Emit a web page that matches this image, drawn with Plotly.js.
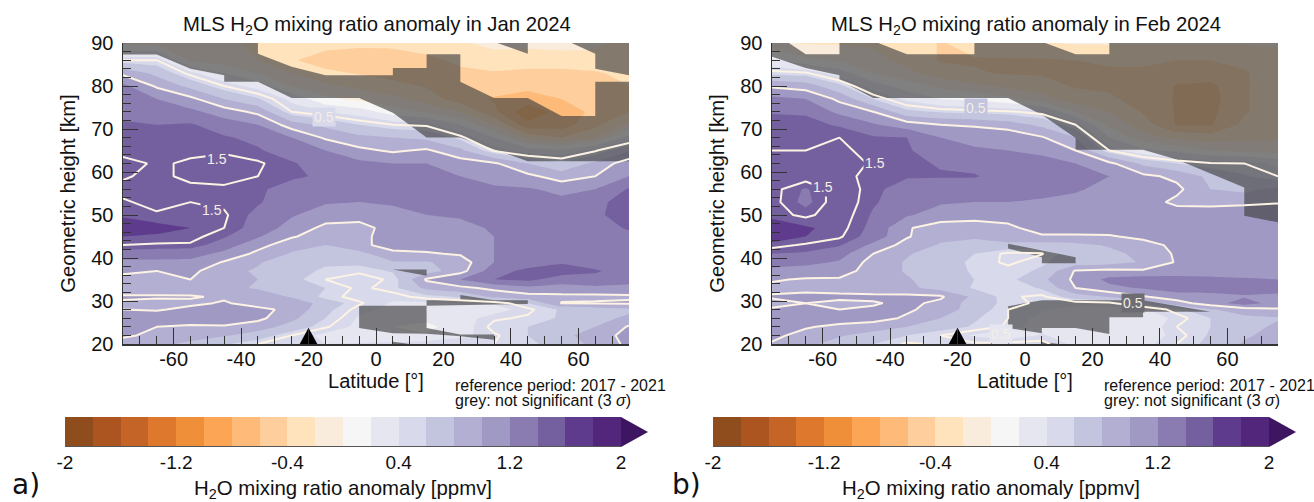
<!DOCTYPE html>
<html><head><meta charset="utf-8">
<script src="https://cdn.plot.ly/plotly-3.0.1.min.js"></script>
<style>html,body{margin:0;padding:0;background:#fff}#c{width:1314px;height:502px}</style>
</head><body><div id="c"></div>
<script>
const latitudes=[-75,-65,-55,-45,-35,-25,-15,-5,5,15,25,35,45,55,65,75];
const heights=[20,22,24,26,28,29.5,31,33,35,37,39,41,43,45,47,50,53,56,59,62,65,68,71,74,77,80,83,86,90];
const janAnomaly=[
[.95,.85,.75,.62,.5,.42,.4,.42,.45,.5,.5,.5,.55,.7,.85,1.05],
[1.02,.97,.9,.82,.7,.5,.35,.25,.2,.22,.35,.48,.6,.75,.88,1.08],
[1.08,1.0,.97,.98,.9,.72,.52,.35,.2,.15,.3,.55,.6,.7,.8,1.02],
[1.1,1.12,1.12,1.12,1.05,.85,.6,.38,.28,.25,.32,.48,.52,.62,.72,.85],
[1.0,.98,1.05,1.05,1.05,.95,.65,.45,.35,.32,.3,.32,.47,.62,.7,.75],
[.98,.95,.96,1.02,.92,.97,.7,.52,.38,.38,.4,.42,.6,1.01,1.02,1.03],
[1.02,1.02,1.02,.97,.92,.78,.55,.45,.45,.55,.62,.85,.92,.95,.95,.97],
[.9,.9,.88,.85,.78,.72,.6,.47,.55,.85,.95,1.05,1.15,1.12,1.15,1.12],
[.92,.95,1.0,.8,.8,.65,.5,.45,.52,1.03,1.2,1.4,1.45,1.3,1.35,1.3],
[1.05,1.0,1.06,.85,.78,.65,.58,.52,.62,.7,.92,1.32,1.45,1.5,1.42,1.32],
[1.15,1.15,1.15,.98,.82,.68,.62,.65,.78,.78,.9,1.2,1.3,1.38,1.32,1.28],
[1.3,1.3,1.28,1.15,.95,.78,.68,.72,.97,.98,1.02,1.2,1.25,1.3,1.3,1.3],
[1.5,1.48,1.48,1.3,1.07,.88,.8,.97,1.05,1.08,1.15,1.2,1.25,1.28,1.3,1.3],
[1.6,1.58,1.55,1.42,1.22,1.02,.9,.97,1.05,1.12,1.15,1.2,1.22,1.28,1.3,1.35],
[1.8,1.65,1.6,1.5,1.32,1.12,.95,.93,1.08,1.12,1.15,1.22,1.28,1.3,1.32,1.42],
[1.55,1.52,1.55,1.52,1.35,1.22,1.1,1.08,1.15,1.2,1.22,1.28,1.3,1.3,1.36,1.5],
[1.52,1.45,1.5,1.47,1.42,1.28,1.22,1.2,1.22,1.25,1.25,1.25,1.25,1.25,1.34,1.5],
[1.45,1.42,1.45,1.45,1.42,1.35,1.3,1.3,1.3,1.28,1.25,1.22,1.22,1.15,1.2,1.42],
[1.52,1.45,1.55,1.6,1.5,1.42,1.38,1.39,1.4,1.3,1.2,1.15,1.05,.9,1.0,1.2],
[1.55,1.48,1.52,1.58,1.52,1.42,1.3,1.25,1.2,1.2,1.1,1.03,.8,.65,.85,1.12],
[1.45,1.45,1.47,1.47,1.42,1.3,1.2,1.05,.97,1.03,.85,.48,.3,.25,.48,.78],
[1.45,1.42,1.47,1.42,1.35,1.2,.97,.85,.8,.75,.55,.2,-.25,-.4,-.25,.3],
[1.42,1.4,1.42,1.3,1.2,.9,.75,.6,.5,.47,.2,-.2,-.75,-.7,-.45,-.15],
[1.35,1.3,1.25,1.1,.95,.5,.4,.3,.1,-.03,-.2,-.55,-.95,-.72,-.55,-.4],
[1.35,1.2,1.05,.8,.62,.35,.05,-.05,-.15,-.3,-.5,-.62,-.68,-.6,-.55,-.5],
[1.25,.97,.74,.5,.32,0,-.15,-.25,-.32,-.42,-.45,-.5,-.55,-.5,-.5,-.4],
[.95,.74,.45,.2,0,-.2,-.35,-.42,-.5,-.5,-.45,-.42,-.45,-.45,-.42,-.35],
[.5,.5,-.03,-.12,-.2,-.38,-.5,-.52,-.5,-.45,-.35,-.28,-.3,-.3,-.28,-.3],
[-.05,-.05,-.1,-.15,-.25,-.28,-.32,-.35,-.35,-.3,-.22,-.15,-.15,-.12,-.15,-.3]];
const febAnomaly=[
[.98,.85,.72,.6,.48,.52,.52,.55,.55,.35,.3,.35,.5,.65,.82,.98],
[1.05,.93,.82,.72,.6,.5,.38,.3,.42,.3,.25,.3,.45,.62,.78,.85],
[1.12,1.02,.95,.9,.8,.68,.58,.48,.32,.25,.25,.28,.5,.6,.7,.85],
[1.15,1.12,1.1,1.08,.97,.8,.62,.5,.35,.28,.28,.25,.45,.6,.75,.78],
[1.02,1.05,1.0,1.03,1.03,.92,.7,.5,.42,.35,.35,.38,.55,.78,.9,.98],
[.95,1.0,.95,.98,1.05,.95,.7,.55,.47,.45,.47,.65,.92,1.1,1.3,1.1],
[1.02,1.05,1.05,1.05,1.05,1.03,.75,.52,.47,.7,.82,.98,1.1,1.12,1.18,1.15],
[.95,.95,.92,.88,.85,.72,.58,.5,.62,1.0,1.15,1.22,1.3,1.3,1.28,1.28],
[1.02,.98,.98,.9,.82,.7,.6,.55,.75,1.05,1.25,1.3,1.28,1.25,1.22,1.2],
[1.15,1.12,1.08,.92,.78,.68,.58,.55,.62,1.02,1.05,1.03,1.08,1.1,1.12,1.12],
[1.28,1.25,1.18,.92,.78,.65,.58,.47,.58,.68,.72,.82,1.02,1.12,1.12,1.12],
[1.4,1.38,1.28,1.0,.82,.7,.6,.47,.49,.72,.75,.85,1.03,1.1,1.1,1.1],
[1.55,1.48,1.42,1.15,.92,.78,.75,.72,.72,.75,.82,.92,1.05,1.1,1.1,1.1],
[1.7,1.6,1.52,1.32,1.02,.85,.82,.97,.97,.97,.98,1.05,1.1,1.12,1.12,1.15],
[1.72,1.62,1.55,1.35,1.02,.9,.88,.95,1.1,1.1,1.1,1.1,1.15,1.15,1.15,1.2],
[1.55,1.47,1.58,1.38,1.22,1.12,1.1,1.1,1.12,1.1,1.1,1.1,1.12,1.1,1.15,1.18],
[1.55,1.35,1.6,1.42,1.3,1.22,1.2,1.2,1.18,1.15,1.1,1.1,.95,.95,.95,.98],
[1.55,1.38,1.58,1.45,1.3,1.25,1.25,1.25,1.25,1.22,1.15,1.1,1.05,.8,.75,.85],
[1.55,1.58,1.55,1.45,1.42,1.42,1.42,1.3,1.28,1.25,1.2,1.05,.95,.75,.62,.5],
[1.55,1.55,1.58,1.48,1.45,1.38,1.32,1.35,1.28,1.2,1.05,.75,.6,.52,.5,.35],
[1.5,1.5,1.52,1.47,1.42,1.3,1.22,1.2,1.15,1.0,.5,.25,.15,0,-.05,-.1],
[1.45,1.45,1.5,1.42,1.4,1.2,1.15,1.15,1.02,.8,.2,-.12,-.25,-.3,-.25,-.22],
[1.5,1.45,1.38,1.22,1.1,1.0,.97,.9,.75,.5,-.05,-.3,-.62,-.62,-.35,-.28],
[1.38,1.38,1.15,1.0,.65,.58,.55,.52,.45,0,-.2,-.42,-.62,-.65,-.42,-.28],
[1.25,1.2,.95,.6,.35,.2,.15,.05,-.12,-.3,-.38,-.45,-.62,-.68,-.42,-.28],
[.97,.9,.65,.3,.1,-.05,-.15,-.25,-.32,-.42,-.42,-.42,-.62,-.65,-.42,-.3],
[.55,.52,.3,0,-.15,-.3,-.38,-.42,-.42,-.42,-.42,-.42,-.45,-.5,-.42,-.28],
[.25,.05,-.03,-.15,-.25,-.42,-.42,-.42,-.42,-.4,-.38,-.38,-.4,-.4,-.35,-.25],
[-.15,-.22,-.22,-.22,-.25,-.42,-.3,-.25,-.22,-.18,-.18,-.18,-.18,-.18,-.18,-.18]];
// Not-significant regions, [latitude, km], polygons split by null
const janMaskLat=[-75,-35,-35,-25,-15,5,5,15,15,25,25,35,45,55,65,65,75,75,45,35,25,15,5,-5,-25,-35,-45,-45,-55,-65,-75,-75,null,36,45,45,null,58,65,65,75,75,null,5,15,15,null,-5,15,15,25,25,35,45,45,15,15,25,35,35,25,15,5,-5,null,5,10,5];
const janMaskKm=[90,90,87.5,84.5,82.5,82.5,84.2,84.2,87.4,87.4,81,77.2,77.2,73,73,81,81,62.5,62.5,65.2,68,68,73.8,77.2,77.2,81,81,82.5,84,87.3,87.3,90,null,90,87.5,90,null,90,87.5,84,82.5,90,null,37.3,37.3,35.9,null,28.9,28.9,30.2,30.2,31.4,30.2,30.2,29.3,28.9,23.7,22.2,22.2,21,21.8,22.4,22.5,23.7,null,20.5,20,20];
const febMaskLat=[-75,-70,-65,-55,-55,-43.5,-35,-15,-15,6,15,25,25,75,75,65,65,45,35,15,15,5,-5,-45,-55,-55,-65,-75,-75,null,-5,15,15,5,5,-5,null,-5,5,35,55,35,35,25,25,15,5,5,-5,null,5,10,5];
const febMaskKm=[90,90,87.4,87.4,90,90,87.4,87.4,90,90,87.4,87.4,90,90,48.3,49.8,56.4,62.9,65.2,65.2,67.9,73.3,77.2,77.2,81.4,82.5,84.2,86.8,90,null,43.3,40.2,38.8,38.8,40.2,42.2,null,28.8,30.2,30.2,27.5,27.5,26.2,26.2,22.3,23.7,23.7,22.5,23.7,null,20.5,20,20];
const bandColors=['#8f4d1e','#ac5520','#c46427','#dd782c','#ef8f3a','#fca555','#fdba78','#fecf9c','#fee3bd','#f9ecdc','#f6f6f6','#e6e6f0','#d8d9ea','#c3c4de','#b3afd2','#9f99c3','#8a7cb1','#74609e','#5e3b8d','#52267a'];
const overColor='#3d1560';
const barMid=[-1.9,-1.7,-1.5,-1.3,-1.1,-.9,-.7,-.5,-.3,-.1,.1,.3,.5,.7,.9,1.1,1.3,1.5,1.7,1.9];
const barTicks=[-2,-1.2,-.4,.4,1.2,2];
const latTicks=[-60,-40,-20,0,20,40,60];
const stationLat=[-22.6,-20,-17.4], stationKm=[20,23.8,20];
const lineLevels={start:.5,end:1.5,size:.5};
const lineColor='#fdf3e4';

const cs=[];bandColors.forEach((c,i)=>{cs.push([i/20,c]);cs.push([(i+1)/20,c]);});
const W=1314,H=502;
const dx=(a,b)=>[a/W,b/W], dy=(t,b)=>[(H-b)/H,(H-t)/H];
const font='"Liberation Sans",Arial,sans-serif', ink='#111';
const panels=[
 {L:123,R:629,z:janAnomaly,mx:janMaskLat,my:janMaskKm,ax:'',ov:'3',cb:'5',ar:'7',cL:65,cR:621},
 {L:772,R:1278,z:febAnomaly,mx:febMaskLat,my:febMaskKm,ax:'2',ov:'4',cb:'6',ar:'8',cL:713,cR:1269}];
const data=[],layout={width:W,height:H,margin:{l:0,r:0,t:0,b:0},paper_bgcolor:'#fff',plot_bgcolor:'rgba(0,0,0,0)',showlegend:false,font:{family:font,color:ink},annotations:[]};
panels.forEach(p=>{
 const xa='x'+p.ax,ya='y'+p.ax,xo='x'+p.ov,yo='y'+p.ov,xc='x'+p.cb,yc='y'+p.cb,xr='x'+p.ar,yr='y'+p.ar;
 data.push({type:'contour',x:latitudes,y:heights,z:p.z,xaxis:xa,yaxis:ya,zmin:-2,zmax:2,zauto:false,autocontour:false,colorscale:cs,showscale:false,
   contours:{start:-2,end:2,size:.2,coloring:'fill',showlines:false},line:{width:0,smoothing:0},hoverinfo:'skip'});
 data.push({type:'scatter',mode:'lines',x:p.mx,y:p.my,xaxis:xa,yaxis:ya,fill:'toself',fillcolor:'rgba(65,65,65,0.65)',line:{width:0},hoverinfo:'skip'});
 data.push({type:'contour',x:latitudes,y:heights,z:p.z,xaxis:xo,yaxis:yo,autocontour:false,showscale:false,
   contours:Object.assign({coloring:'none'},lineLevels),line:{color:lineColor,width:2,smoothing:0},hoverinfo:'skip'});
 data.push({type:'scatter',mode:'lines',x:stationLat,y:stationKm,xaxis:xo,yaxis:yo,fill:'toself',fillcolor:'#000',line:{width:0,color:'#000'},hoverinfo:'skip'});
 data.push({type:'heatmap',x:barMid,y:[.5],z:[barMid],xaxis:xc,yaxis:yc,zmin:-2,zmax:2,colorscale:cs,showscale:false,hoverinfo:'skip'});
 data.push({type:'scatter',mode:'lines',x:[2,2.194,2],y:[0,.5,1],xaxis:xr,yaxis:yr,fill:'toself',fillcolor:overColor,line:{width:0,color:overColor},hoverinfo:'skip'});
 data.push({type:'scatter',mode:'lines',x:[-2,2],y:[0,0],xaxis:xc,yaxis:yc,line:{width:2,color:'#555'},cliponaxis:false,hoverinfo:'skip'});
 const xk=k=>'xaxis'+k,yk=k=>'yaxis'+k;
 const dom=dy(43,344),xd=dx(p.L,p.R);
 layout[xk(p.ax)]={domain:xd,range:[-75,75],anchor:ya,tickmode:'array',tickvals:latTicks,ticktext:latTicks.map(String),ticks:'inside',ticklen:16,tickwidth:1,tickcolor:'#333',
   minor:{dtick:5,tick0:0,ticks:'inside',ticklen:8,tickwidth:1,tickcolor:'#333',showgrid:false},showline:true,linecolor:'#333',linewidth:1.5,showgrid:false,zeroline:false,
   tickfont:{size:20,family:font,color:ink},ticklabelstandoff:-4,title:{text:'Latitude [°]',font:{size:20,family:font,color:ink},standoff:1}};
 layout[yk(p.ax)]={domain:dom,range:[20,90],anchor:xa,tickmode:'linear',dtick:10,tick0:0,ticks:'inside',ticklen:15,tickwidth:1,tickcolor:'#333',
   minor:{dtick:2,ticks:'inside',ticklen:8,tickwidth:1,tickcolor:'#333',showgrid:false},showline:true,linecolor:'#333',linewidth:1.5,showgrid:false,zeroline:false,
   tickfont:{size:20,family:font,color:ink},ticklabelstandoff:4,title:{text:'Geometric height [km]',font:{size:20.3,family:font,color:ink},standoff:10}};
 layout[xk(p.ov)]={domain:xd,range:[-75,75],overlaying:xa,anchor:yo,visible:false};
 layout[yk(p.ov)]={domain:dom,range:[20,90],overlaying:ya,anchor:xo,visible:false};
 layout[xk(p.cb)]={domain:dx(p.cL,p.cR),range:[-2,2],anchor:yc,tickmode:'array',tickvals:barTicks,ticktext:barTicks.map(String),ticks:'',showgrid:false,zeroline:false,showline:false,
   tickfont:{size:19,family:font,color:ink},ticklabelstandoff:2,title:{text:'H<sub>2</sub>O mixing ratio anomaly [ppmv]',font:{size:20.4,family:font,color:ink},standoff:10}};
 layout[yk(p.cb)]={domain:dy(417,447),range:[0,1],anchor:xc,visible:false};
 layout[xk(p.ar)]={domain:dx(p.cR,p.cR+27),range:[2,2.194],anchor:yr,visible:false};
 layout[yk(p.ar)]={domain:dy(417,447),range:[0,1],anchor:xr,visible:false};
 const cx=(p.L+p.R)/2;
 layout.annotations.push({xref:'paper',yref:'paper',x:(cx+0.5)/W,y:(H-26)/H,text:'MLS H<sub>2</sub>O mixing ratio anomaly in '+(p.ax?'Feb':'Jan')+' 2024',showarrow:false,font:{size:20.3,family:font,color:ink},xanchor:'center',yanchor:'middle'});
 ['reference period: 2017 - 2021','grey: not significant (3 <i>σ</i>)'].forEach((t,i)=>layout.annotations.push({xref:'paper',yref:'paper',x:(p.R-176)/W,y:(H-385-i*15.5)/H,text:t,showarrow:false,align:'left',font:{size:16,family:font,color:ink},xanchor:'left',yanchor:'middle'}));
});
[[10,'a)'],[670,'b)']].forEach(a=>layout.annotations.push({xref:'paper',yref:'paper',x:a[0]/W,y:(H-484)/H,text:a[1],showarrow:false,font:{size:28,family:'"DejaVu Sans",sans-serif',color:ink},xanchor:'left',yanchor:'middle'}));
[['x','y',-15.5,72.9,'0.5','#d8d9ea'],['x','y',-47,63,'1.5','#74609e'],['x','y',-48.5,51.2,'1.5','#74609e'],
 ['x2','y2',-14.6,75,'0.5','#c3c4de'],['x2','y2',-44.4,62,'1.5','#74609e'],['x2','y2',-60,56.6,'1.5','#74609e'],['x2','y2',32,29.6,'0.5','#6d6c72'],['x2','y2',-7,22.3,'0.5','#e6e6f0']]
 .forEach(a=>layout.annotations.push({xref:a[0],yref:a[1],x:a[2],y:a[3],text:a[4],showarrow:false,font:{size:14,family:font,color:'#f4eee6'},bgcolor:a[5]}));
Plotly.newPlot('c',data,layout,{staticPlot:true,displayModeBar:false});
</script></body></html>
